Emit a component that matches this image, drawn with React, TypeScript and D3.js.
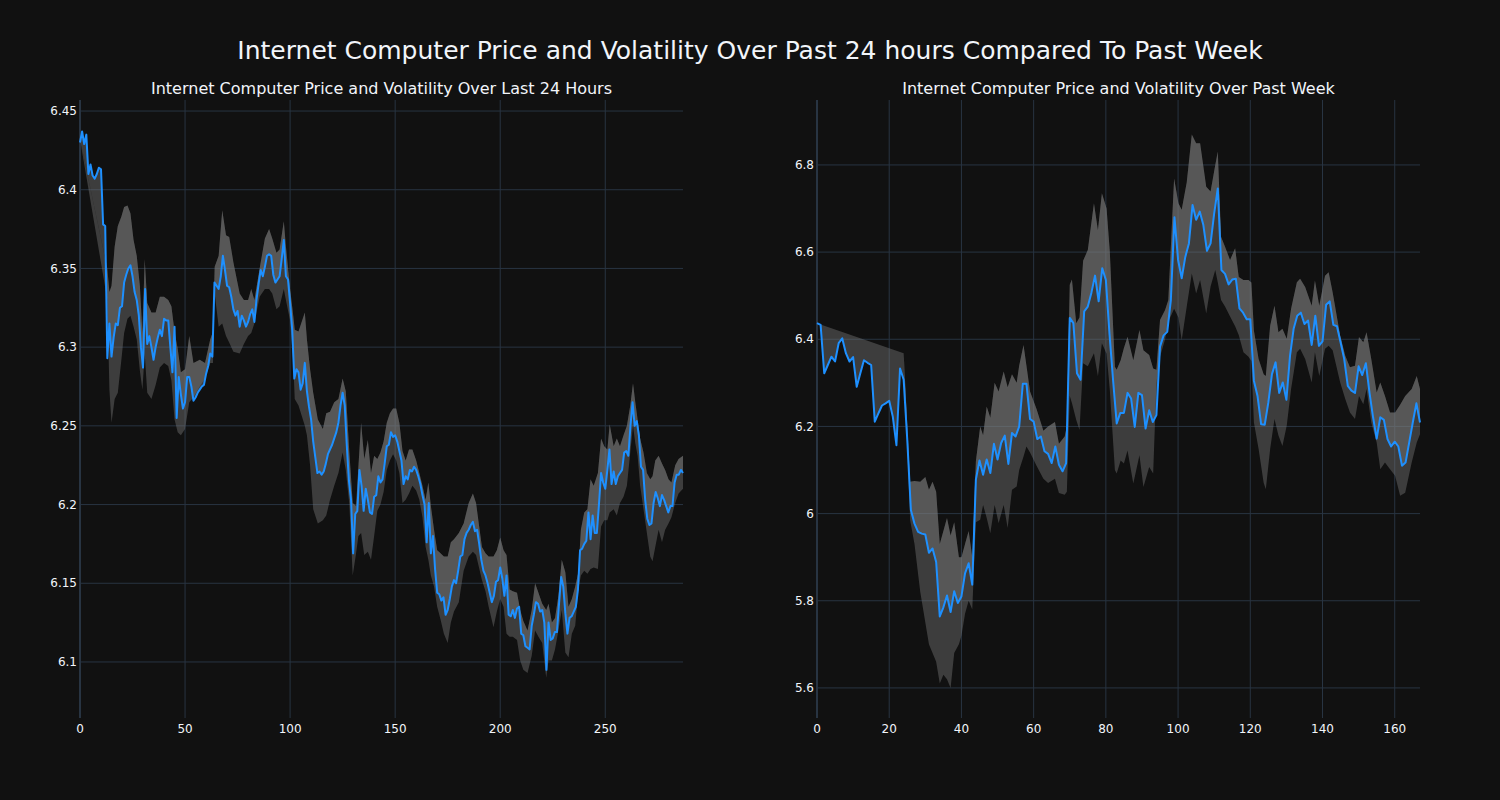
import React from 'react';
import * as d3 from 'd3';

// Last 24 hours: price per 5-minute step (index = x)
const priceDay: number[] = [
  6.430, 6.437, 6.429, 6.435, 6.410, 6.416, 6.409, 6.407, 6.410, 6.414,
  6.413, 6.378, 6.377, 6.293, 6.315, 6.294, 6.306, 6.315, 6.314, 6.325,
  6.326, 6.341, 6.346, 6.350, 6.352, 6.345, 6.335, 6.330, 6.320, 6.300,
  6.287, 6.337, 6.302, 6.307, 6.300, 6.292, 6.300, 6.306, 6.311, 6.307,
  6.318, 6.317, 6.317, 6.300, 6.284, 6.313, 6.255, 6.281, 6.270, 6.261,
  6.265, 6.281, 6.281, 6.275, 6.266, 6.268, 6.271, 6.273, 6.275, 6.276,
  6.283, 6.288, 6.296, 6.294, 6.341, 6.339, 6.337, 6.345, 6.358, 6.349,
  6.339, 6.338, 6.332, 6.324, 6.320, 6.323, 6.313, 6.320, 6.317, 6.313,
  6.316, 6.321, 6.324, 6.316, 6.330, 6.340, 6.349, 6.345, 6.351, 6.358,
  6.359, 6.358, 6.346, 6.341, 6.343, 6.345, 6.356, 6.368, 6.345, 6.343,
  6.328, 6.311, 6.280, 6.286, 6.284, 6.273, 6.277, 6.290, 6.272, 6.262,
  6.254, 6.240, 6.230, 6.220, 6.221, 6.219, 6.221, 6.226, 6.232, 6.235,
  6.238, 6.242, 6.246, 6.252, 6.263, 6.271, 6.263, 6.237, 6.215, 6.203,
  6.169, 6.194, 6.196, 6.222, 6.212, 6.196, 6.210, 6.203, 6.195, 6.194,
  6.205, 6.206, 6.218, 6.214, 6.216, 6.226, 6.237, 6.238, 6.246, 6.243,
  6.244, 6.240, 6.234, 6.228, 6.213, 6.218, 6.216, 6.222, 6.221, 6.224,
  6.222, 6.218, 6.213, 6.206, 6.200, 6.176, 6.201, 6.169, 6.180, 6.159,
  6.144, 6.143, 6.139, 6.141, 6.130, 6.133, 6.140, 6.148, 6.152, 6.150,
  6.158, 6.167, 6.168, 6.178, 6.182, 6.184, 6.187, 6.189, 6.183, 6.184,
  6.175, 6.165, 6.158, 6.155, 6.150, 6.144, 6.138, 6.142, 6.151, 6.152,
  6.160, 6.153, 6.142, 6.155, 6.130, 6.129, 6.133, 6.128, 6.134, 6.135,
  6.118, 6.117, 6.110, 6.109, 6.108, 6.123, 6.130, 6.138, 6.137, 6.132,
  6.133, 6.125, 6.095, 6.125, 6.114, 6.115, 6.119, 6.119, 6.137, 6.154,
  6.148, 6.131, 6.118, 6.128, 6.129, 6.132, 6.135, 6.146, 6.171, 6.172,
  6.175, 6.177, 6.195, 6.178, 6.193, 6.182, 6.182, 6.200, 6.220, 6.214,
  6.210, 6.222, 6.235, 6.213, 6.221, 6.213, 6.218, 6.220, 6.222, 6.233,
  6.234, 6.231, 6.250, 6.265, 6.250, 6.253, 6.244, 6.224, 6.222, 6.203,
  6.191, 6.187, 6.188, 6.201, 6.208, 6.204, 6.199, 6.206, 6.203, 6.199,
  6.195, 6.199, 6.199, 6.214, 6.219, 6.219, 6.222, 6.220,
];

// Last 24 hours volatility band: [x, upper, lower]
const bandDay: [number, number, number][] = [
  [0, 6.432, 6.432], [13, 6.350, 6.330], [14, 6.335, 6.273], [15, 6.339, 6.252],
  [16.5, 6.364, 6.267], [18, 6.377, 6.271], [19.7, 6.383, 6.292], [21, 6.389, 6.309],
  [22.6, 6.390, 6.318], [24, 6.385, 6.320], [25.5, 6.368, 6.313], [27, 6.358, 6.305],
  [28.5, 6.339, 6.285], [29.7, 6.309, 6.273], [30.8, 6.356, 6.296], [32, 6.328, 6.271],
  [34, 6.322, 6.267], [36, 6.322, 6.276], [38, 6.332, 6.287], [40, 6.332, 6.290],
  [42, 6.330, 6.288], [43.5, 6.326, 6.279], [45, 6.310, 6.254], [46.5, 6.299, 6.246],
  [48, 6.284, 6.244], [50, 6.286, 6.248], [52, 6.307, 6.265], [54, 6.290, 6.268],
  [57, 6.292, 6.275], [59.5, 6.290, 6.280], [62, 6.305, 6.290], [63.3, 6.310, 6.290],
  [64.1, 6.351, 6.334], [66, 6.358, 6.313], [67.7, 6.387, 6.315], [69.5, 6.371, 6.307],
  [71, 6.370, 6.303], [73, 6.354, 6.297], [76, 6.334, 6.296], [78, 6.330, 6.302],
  [80, 6.330, 6.307], [81.5, 6.337, 6.309], [83, 6.330, 6.315], [85.5, 6.350, 6.332],
  [88, 6.369, 6.337], [90, 6.375, 6.337], [91.5, 6.369, 6.334], [93.5, 6.360, 6.324],
  [95, 6.362, 6.326], [97, 6.380, 6.337], [98, 6.364, 6.330], [100, 6.337, 6.317],
  [101.5, 6.320, 6.290], [102.2, 6.311, 6.267], [104, 6.310, 6.263], [107, 6.322, 6.250],
  [108, 6.305, 6.244], [109.5, 6.286, 6.225], [111, 6.271, 6.197], [113.2, 6.254, 6.188],
  [115.6, 6.248, 6.190], [117.2, 6.258, 6.193], [119, 6.259, 6.203], [121, 6.265, 6.212],
  [123, 6.267, 6.220], [125, 6.280, 6.233], [126.5, 6.272, 6.222], [128.2, 6.233, 6.200],
  [129.8, 6.201, 6.155], [131.4, 6.199, 6.169], [132.5, 6.224, 6.180], [133.8, 6.252, 6.182],
  [135.3, 6.229, 6.168], [137, 6.241, 6.170], [138.5, 6.220, 6.165], [140, 6.231, 6.180],
  [141.5, 6.229, 6.196], [143, 6.233, 6.200], [144.5, 6.240, 6.208], [146, 6.252, 6.222],
  [147.5, 6.258, 6.228], [149, 6.261, 6.232], [150.5, 6.261, 6.228], [152, 6.252, 6.220],
  [153.5, 6.234, 6.201], [155, 6.228, 6.203], [156.6, 6.235, 6.207], [158.2, 6.235, 6.212],
  [160, 6.228, 6.209], [161.5, 6.220, 6.203], [163, 6.212, 6.192], [164.5, 6.203, 6.173],
  [165.8, 6.214, 6.165], [167, 6.199, 6.155], [168.5, 6.184, 6.148], [170, 6.171, 6.135],
  [171.6, 6.169, 6.127], [173.2, 6.167, 6.118], [175, 6.167, 6.112], [176.5, 6.176, 6.125],
  [178, 6.178, 6.132], [180.3, 6.182, 6.138], [182.6, 6.188, 6.158], [185, 6.201, 6.167],
  [187, 6.207, 6.170], [188.5, 6.201, 6.168], [191.3, 6.173, 6.152], [193, 6.169, 6.145],
  [194.5, 6.167, 6.135], [196.8, 6.167, 6.122], [198.4, 6.171, 6.132], [200, 6.179, 6.140],
  [201.6, 6.171, 6.135], [203, 6.168, 6.118], [204.5, 6.146, 6.116], [206, 6.145, 6.116],
  [208, 6.144, 6.114], [209.5, 6.133, 6.101], [211, 6.126, 6.095], [213, 6.120, 6.093],
  [215, 6.133, 6.104], [216.6, 6.150, 6.120], [218.2, 6.144, 6.116], [220, 6.137, 6.112],
  [221.9, 6.133, 6.090], [223, 6.137, 6.101], [224.6, 6.125, 6.101], [226.1, 6.128, 6.108],
  [227.7, 6.142, 6.120], [229.3, 6.165, 6.133], [231, 6.157, 6.106], [232.5, 6.135, 6.103],
  [234.1, 6.140, 6.118], [235.7, 6.148, 6.123], [237.2, 6.157, 6.146], [238.4, 6.184, 6.155],
  [240, 6.195, 6.158], [241.5, 6.197, 6.156], [243, 6.216, 6.159], [244.5, 6.212, 6.160],
  [246.5, 6.220, 6.159], [248, 6.242, 6.186], [249.5, 6.237, 6.190], [251, 6.235, 6.190],
  [252.1, 6.251, 6.195], [254, 6.237, 6.197], [255.5, 6.242, 6.193], [257, 6.237, 6.201],
  [258.7, 6.244, 6.205], [260.3, 6.250, 6.212], [261.9, 6.263, 6.233], [263.2, 6.277, 6.250],
  [264.3, 6.265, 6.239], [265.4, 6.254, 6.231], [266.6, 6.242, 6.212], [268.2, 6.233, 6.197],
  [269.8, 6.220, 6.182], [271.4, 6.216, 6.167], [272.5, 6.218, 6.164], [273.8, 6.228, 6.173],
  [275.4, 6.231, 6.184], [277, 6.226, 6.176], [278.5, 6.222, 6.184], [280.1, 6.216, 6.188],
  [281.5, 6.214, 6.192], [283.3, 6.225, 6.201], [284.9, 6.229, 6.207], [287, 6.231, 6.210],
];

// Past week: hourly price (index = x)
const priceWeek: number[] = [
  6.437, 6.433, 6.322, 6.341, 6.360, 6.349, 6.391, 6.402, 6.368, 6.349,
  6.359, 6.291, 6.322, 6.352, 6.346, 6.341, 6.211, 6.230, 6.248, 6.253,
  6.259, 6.222, 6.157, 6.333, 6.307, 6.169, 6.008, 5.977, 5.958, 5.954,
  5.952, 5.910, 5.920, 5.889, 5.764, 5.785, 5.812, 5.774, 5.822, 5.795,
  5.810, 5.863, 5.886, 5.837, 6.078, 6.122, 6.089, 6.124, 6.093, 6.160,
  6.124, 6.162, 6.179, 6.114, 6.185, 6.177, 6.200, 6.298, 6.298, 6.217,
  6.211, 6.171, 6.177, 6.143, 6.137, 6.116, 6.154, 6.112, 6.097, 6.116,
  6.449, 6.437, 6.322, 6.307, 6.464, 6.475, 6.507, 6.546, 6.487, 6.563,
  6.536, 6.413, 6.306, 6.207, 6.231, 6.231, 6.277, 6.264, 6.199, 6.277,
  6.272, 6.195, 6.237, 6.210, 6.226, 6.383, 6.409, 6.417, 6.490, 6.680,
  6.582, 6.540, 6.589, 6.620, 6.708, 6.674, 6.693, 6.662, 6.603, 6.620,
  6.689, 6.746, 6.559, 6.550, 6.526, 6.537, 6.539, 6.471, 6.461, 6.446,
  6.446, 6.305, 6.270, 6.205, 6.204, 6.255, 6.320, 6.347, 6.277, 6.301,
  6.261, 6.362, 6.424, 6.454, 6.461, 6.435, 6.443, 6.387, 6.454, 6.385,
  6.395, 6.479, 6.487, 6.433, 6.430, 6.393, 6.355, 6.293, 6.282, 6.277,
  6.338, 6.318, 6.345, 6.278, 6.221, 6.172, 6.221, 6.215, 6.171, 6.154,
  6.165, 6.154, 6.110, 6.117, 6.163, 6.209, 6.253, 6.209,
];

// Past week volatility band: [x, upper, lower]
const bandWeek: [number, number, number][] = [
  [0, 6.437, 6.437], [24, 6.368, 6.368], [25.8, 6.073, 5.985], [27, 6.075, 5.930],
  [28.6, 6.073, 5.820], [30, 6.084, 5.750], [31, 6.055, 5.700], [32, 6.073, 5.680],
  [33, 6.050, 5.660], [34, 5.930, 5.610], [35, 5.960, 5.630], [36, 5.990, 5.620],
  [37, 5.950, 5.600], [38, 5.980, 5.680], [39.3, 5.900, 5.700], [40, 5.900, 5.720],
  [41, 5.930, 5.770], [42, 5.960, 5.800], [43, 5.900, 5.780], [44, 6.120, 5.980],
  [45.2, 6.200, 5.986], [46, 6.180, 6.020], [47, 6.246, 5.990], [48, 6.220, 5.955],
  [49.2, 6.300, 6.020], [50.3, 6.280, 5.978], [51.7, 6.326, 6.020], [52.8, 6.290, 5.967],
  [54, 6.320, 6.055], [55.3, 6.300, 6.062], [56, 6.340, 6.100], [57.2, 6.387, 6.131],
  [58, 6.340, 6.154], [59, 6.280, 6.140], [60.8, 6.240, 6.110], [62.7, 6.190, 6.080],
  [64, 6.200, 6.070], [65.9, 6.210, 6.080], [67, 6.160, 6.047], [68.6, 6.177, 6.043],
  [69.2, 6.200, 6.050], [70, 6.525, 6.270], [70.6, 6.537, 6.254], [71.8, 6.437, 6.215],
  [72.7, 6.450, 6.192], [73.7, 6.580, 6.345], [75, 6.605, 6.338], [76.7, 6.712, 6.368],
  [77.8, 6.650, 6.315], [78.9, 6.735, 6.391], [80.2, 6.700, 6.367], [81.1, 6.600, 6.283],
  [82.5, 6.337, 6.100], [83, 6.330, 6.092], [84.1, 6.352, 6.122], [85, 6.380, 6.115],
  [86, 6.406, 6.145], [87.6, 6.352, 6.069], [89.3, 6.421, 6.134], [90.4, 6.375, 6.061],
  [92, 6.364, 6.107], [93.1, 6.333, 6.092], [94, 6.330, 6.300], [95, 6.444, 6.360],
  [96.4, 6.467, 6.400], [97.3, 6.490, 6.440], [98.9, 6.769, 6.470], [100.1, 6.712, 6.450],
  [101, 6.697, 6.398], [102.4, 6.760, 6.475], [103.8, 6.870, 6.551], [105, 6.850, 6.505],
  [106.1, 6.850, 6.536], [107.8, 6.750, 6.459], [109, 6.739, 6.521], [110.3, 6.800, 6.559],
  [111, 6.831, 6.530], [111.9, 6.635, 6.490], [113, 6.612, 6.475], [114.4, 6.582, 6.452],
  [115.8, 6.609, 6.430], [116.8, 6.543, 6.410], [118.1, 6.536, 6.370], [119.5, 6.536, 6.360],
  [120.3, 6.530, 6.350], [121, 6.420, 6.209], [122.3, 6.355, 6.148], [123.7, 6.320, 6.071],
  [124.3, 6.316, 6.056], [125.5, 6.431, 6.148], [126.7, 6.477, 6.217], [127.8, 6.416, 6.179],
  [128.9, 6.424, 6.155], [130.1, 6.401, 6.202], [131.3, 6.470, 6.286], [132.9, 6.531, 6.370],
  [133.8, 6.539, 6.378], [135.2, 6.520, 6.355], [137, 6.477, 6.301], [137.9, 6.535, 6.370],
  [139.1, 6.477, 6.316], [140.7, 6.546, 6.378], [141.7, 6.554, 6.385], [142.8, 6.508, 6.375],
  [144.9, 6.408, 6.301], [146.3, 6.362, 6.263], [147.6, 6.336, 6.232], [149, 6.339, 6.217],
  [150.1, 6.405, 6.270], [151.3, 6.393, 6.251], [152.2, 6.416, 6.286], [153.5, 6.355, 6.209],
  [155, 6.278, 6.163], [156, 6.301, 6.102], [157.3, 6.270, 6.117], [158.7, 6.232, 6.102],
  [160.1, 6.232, 6.087], [161.5, 6.250, 6.041], [162.9, 6.270, 6.048], [164.7, 6.286, 6.117],
  [166.1, 6.316, 6.163], [167, 6.286, 6.182],
];

const dayXTicks = [0, 50, 100, 150, 200, 250];
const dayYTicks = [6.1, 6.15, 6.2, 6.25, 6.3, 6.35, 6.4, 6.45];
const weekXTicks = [0, 20, 40, 60, 80, 100, 120, 140, 160];
const weekYTicks = [5.6, 5.8, 6.0, 6.2, 6.4, 6.6, 6.8];

const mainTitle = 'Internet Computer Price and Volatility Over Past 24 hours Compared To Past Week';
const dayTitle = 'Internet Computer Price and Volatility Over Last 24 Hours';
const weekTitle = 'Internet Computer Price and Volatility Over Past Week';

const BG = '#111111';
const GRID = '#283442';
const TEXT = '#f2f5fa';
const FONT = '"DejaVu Sans", Verdana, sans-serif';
const FILL = 'rgba(128,128,128,0.4)';
const LINE = '#1e90ff';

type PanelProps = {
  left: number; right: number; top: number; bottom: number;
  xDomain: [number, number]; yDomain: [number, number];
  price: number[]; band: [number, number, number][];
  xTicks: number[]; yTicks: number[]; title: string;
};

const fmt = (v: number) => String(+v.toFixed(2));

function Panel(p: PanelProps) {
  const xs = d3.scaleLinear().domain(p.xDomain).range([p.left, p.right]);
  const ys = d3.scaleLinear().domain(p.yDomain).range([p.bottom, p.top]);
  const line = d3.line<[number, number]>().x(d => xs(d[0])).y(d => ys(d[1]));
  const pricePts: [number, number][] = p.price.map((v, i) => [i, v]);
  const upperPts: [number, number][] = p.band.map(b => [b[0], b[1]]);
  const lowerPts: [number, number][] = p.band.map(b => [b[0], b[2]]);
  const bandPath = (line([...upperPts, ...lowerPts.slice().reverse()]) || '') + 'Z';
  const upperPath = (line([...pricePts, ...upperPts.slice().reverse()]) || '') + 'Z';
  const pricePath = line(pricePts) || '';
  const cx = (p.left + p.right) / 2;
  return (
    <g>
      {p.yTicks.map(t => (
        <line key={'gy' + t} x1={p.left} x2={p.right} y1={ys(t)} y2={ys(t)} stroke={GRID} strokeWidth={1} />
      ))}
      {p.xTicks.filter(t => t !== 0).map(t => (
        <line key={'gx' + t} x1={xs(t)} x2={xs(t)} y1={p.top} y2={p.bottom} stroke={GRID} strokeWidth={1} />
      ))}
      <line x1={xs(0)} x2={xs(0)} y1={p.top} y2={p.bottom} stroke={GRID} strokeWidth={2} />
      <path d={bandPath} fill={FILL} stroke="none" />
      <path d={upperPath} fill={FILL} stroke="none" />
      <path d={pricePath} fill="none" stroke={LINE} strokeWidth={2} strokeLinejoin="round" />
      {p.yTicks.map(t => (
        <text key={'ty' + t} x={p.left - 3} y={ys(t)} dy="0.35em" textAnchor="end" fontSize={12} fill={TEXT} fontFamily={FONT}>{fmt(t)}</text>
      ))}
      {p.xTicks.map(t => (
        <text key={'tx' + t} x={xs(t)} y={733} textAnchor="middle" fontSize={12} fill={TEXT} fontFamily={FONT}>{fmt(t)}</text>
      ))}
      <text x={cx} y={94} textAnchor="middle" fontSize={16} fill={TEXT} fontFamily={FONT}>{p.title}</text>
    </g>
  );
}

export default function App() {
  return (
    <svg width={1500} height={800} style={{ position: 'absolute', left: 0, top: 0, display: 'block' }}>
      <rect x={0} y={0} width={1500} height={800} fill={BG} />
      <text x={750} y={59} textAnchor="middle" fontSize={25} fill={TEXT} fontFamily={FONT}>{mainTitle}</text>
      <Panel left={80} right={683} top={100} bottom={718} xDomain={[0, 287]} yDomain={[6.0644, 6.457]}
        price={priceDay} band={bandDay} xTicks={dayXTicks} yTicks={dayYTicks} title={dayTitle} />
      <Panel left={817} right={1420} top={100} bottom={718} xDomain={[0, 167]} yDomain={[5.531, 6.949]}
        price={priceWeek} band={bandWeek} xTicks={weekXTicks} yTicks={weekYTicks} title={weekTitle} />
    </svg>
  );
}
